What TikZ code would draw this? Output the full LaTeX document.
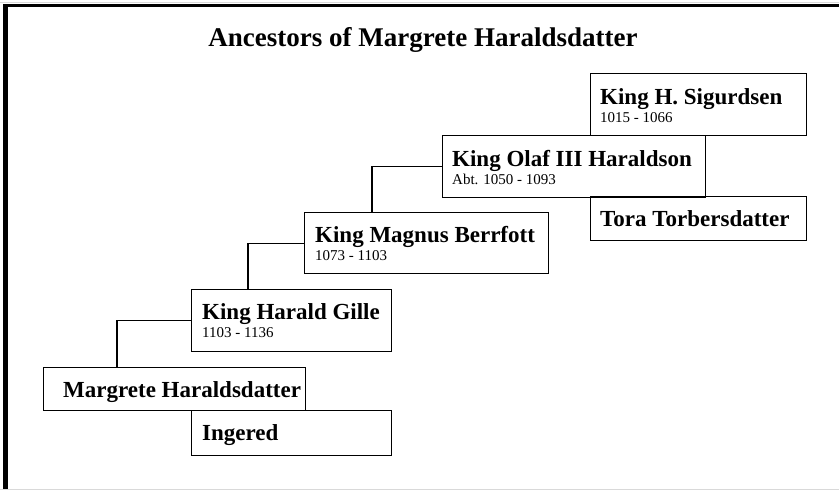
\documentclass[tikz,border=0pt]{standalone}
\usepackage{fontspec}
\setmainfont{Liberation Serif}
\usetikzlibrary{positioning}
\tikzset{
  person/.style={draw,line width=1.3pt,anchor=north west,inner sep=0pt},
  pname/.style={anchor=base west,inner sep=0pt,font=\bfseries\fontsize{23}{26}\selectfont},
  pdates/.style={anchor=base west,inner sep=0pt,font=\fontsize{15}{17}\selectfont},
  link/.style={line width=1.3pt},
}
\begin{document}
\begin{tikzpicture}[x=1pt,y=-1pt]
        \useasboundingbox (0,0) rectangle (839,491);
        %% Frame
        \draw[gray!30,line width=1pt] (0,2) -- (839,2);
        \draw[gray!30,line width=1pt] (0,489.5) -- (839,489.5);
        \draw[line width=3.5pt] (3,5.5) -- (839,5.5);
        \draw[line width=5pt] (5.5,4) -- (5.5,489);
        %% Title
        \node[anchor=base,inner sep=0pt,font=\bfseries\fontsize{27}{30}\selectfont] (title) at (423,46) {Ancestors of Margrete Haraldsdatter};
        %% Boxes
        \node[person,minimum width=216pt,minimum height=62pt] (sigurdsen) at (590,73) {};
        \node[person,minimum width=216pt,minimum height=44pt] (tora) at (590,196) {};
        \node[person,minimum width=263pt,minimum height=62pt] (olaf) at (442,135) {};
        \node[person,minimum width=244pt,minimum height=61pt] (magnus) at (304,212) {};
        \node[person,minimum width=200pt,minimum height=62pt] (harald) at (191,289) {};
        \node[person,minimum width=262pt,minimum height=43pt] (margrete) at (43,367) {};
        \node[person,minimum width=200pt,minimum height=45pt] (ingered) at (191,410) {};
        %% Names and dates
        \node[pname] (sigurdsenN) at ([shift={(10,31)}]sigurdsen.north west) {King H. Sigurdsen};
        \node[pdates] (sigurdsenD) at ([shift={(10,49)}]sigurdsen.north west) {1015 - 1066};
        \node[pname] (olafN) at ([shift={(10,31)}]olaf.north west) {King Olaf III Haraldson};
        \node[pdates] (olafD) at ([shift={(10,49)}]olaf.north west) {Abt. 1050 - 1093};
        \node[pname] (toraN) at ([shift={(10,30)}]tora.north west) {Tora Torbersdatter};
        \node[pname] (magnusN) at ([shift={(11,30)}]magnus.north west) {King Magnus Berrfott};
        \node[pdates] (magnusD) at ([shift={(11,48)}]magnus.north west) {1073 - 1103};
        \node[pname] (haraldN) at ([shift={(11,30)}]harald.north west) {King Harald Gille};
        \node[pdates] (haraldD) at ([shift={(11,48)}]harald.north west) {1103 - 1136};
        \node[pname] (margreteN) at ([shift={(20,30)}]margrete.north west) {Margrete Haraldsdatter};
        \node[pname] (ingeredN) at ([shift={(11,30)}]ingered.north west) {Ingered};
        %% Links
        \draw[link] (olaf.west) -| ([xshift=68pt]magnus.north west);
        \draw[link] (magnus.west) -| ([xshift=57pt]harald.north west);
        \draw[link] (harald.west) -| ([xshift=74pt]margrete.north west);
    \end{tikzpicture}
\end{document}
